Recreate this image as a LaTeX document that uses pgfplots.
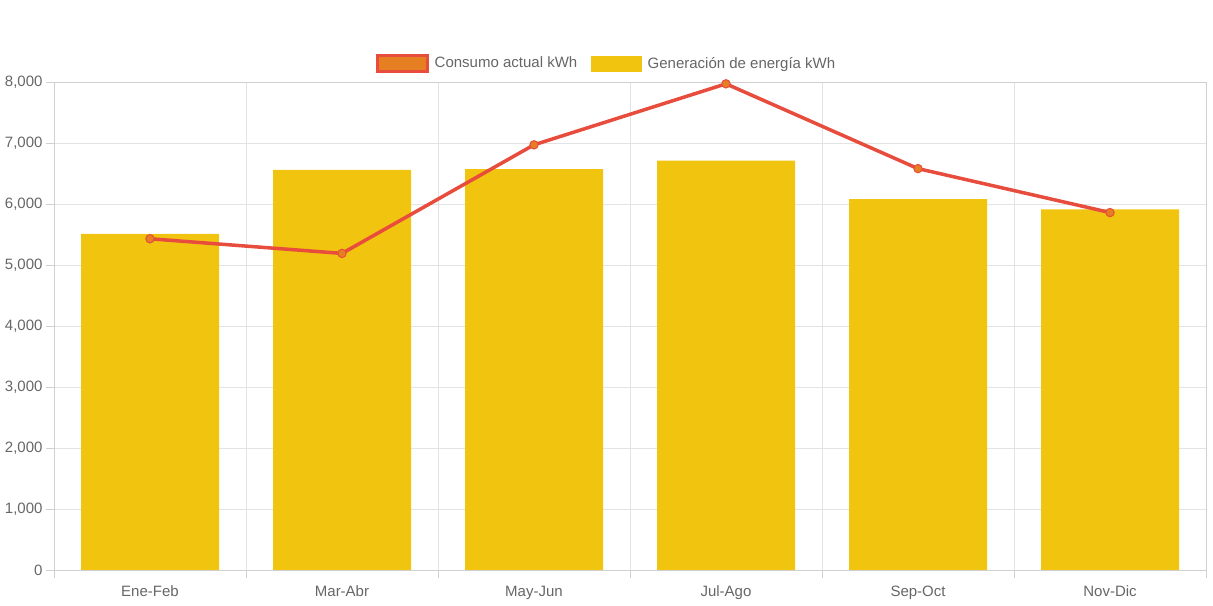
\documentclass[border=0pt]{standalone}
\usepackage{pgfplots}
\pgfplotsset{compat=1.18}
\usepackage{fontspec}
\setmainfont{Liberation Sans}
\definecolor{barY}{HTML}{F1C40F}
\definecolor{lineR}{HTML}{E74C3C}
\definecolor{markO}{HTML}{E67E22}
\definecolor{txt}{HTML}{666666}
\definecolor{gridc}{HTML}{E3E3E3}
\definecolor{axc}{HTML}{D0D0D0}
\pgfplotstableread{
x gen cons
0 5510 5430
1 6560 5190
2 6570 6970
3 6710 7970
4 6080 6580
5 5910 5860
}\datatab
\begin{document}
\begin{tikzpicture}[x=1bp,y=1bp]
\useasboundingbox (0,0) rectangle (1213,606);
\begin{axis}[
  at={(54bp,36bp)}, anchor=south west,
  scale only axis, width=1152bp, height=488bp,
  xmin=-0.5, xmax=5.5, ymin=0, ymax=8000,
  xtick={0,...,5},
  xticklabels={Ene-Feb,Mar-Abr,May-Jun,Jul-Ago,Sep-Oct,Nov-Dic},
  minor xtick={-0.5,0.5,...,5.5},
  ytick={0,1000,...,8000},
  xminorgrids, ymajorgrids,
  grid style={draw=gridc, line width=0.8bp},
  minor grid style={draw=gridc, line width=0.8bp},
  axis line style={draw=axc, line width=0.8bp},
  tick align=outside,
  major x tick style={draw=none},
  minor x tick style={draw=axc, line width=0.8bp},
  major tick length=8bp, minor tick length=8bp,
  y tick style={draw=axc, line width=0.8bp},
  xtick pos=bottom, ytick pos=left,
  /pgf/number format/assume math mode=true,
  /pgf/number format/1000 sep={,},
  tick label style={font=\fontsize{15bp}{18bp}\selectfont, text=txt},
  yticklabel style={xshift=0bp},
  xticklabel style={anchor=base, yshift=-19bp},
  legend style={at={(0.5,1)}, anchor=south, xshift=-23.5bp, yshift=7bp,
    draw=none, fill=none, font=\fontsize{15bp}{18bp}\selectfont, text=txt,
    legend columns=2,
    /tikz/every even column/.append style={column sep=12bp},
    /tikz/every odd column/.append style={column sep=4bp}},
  legend cell align=left,
]
\addplot[ybar, bar width=138bp, fill=barY, draw=none, forget plot] table[x=x, y=gen] {\datatab};
\addplot[color=lineR, line width=3.5bp, mark=*, mark size=4.2bp,
  mark options={fill=markO, draw=lineR, line width=1bp},
  legend image code/.code={\draw[fill=markO, draw=lineR, line width=3bp] (0bp,-8bp) rectangle (50bp,8bp);}]
  table[x=x, y=cons] {\datatab};
\addlegendentry{Consumo actual kWh}
\addlegendimage{legend image code/.code={\fill[barY] (0bp,-7.5bp) rectangle (50bp,7.5bp);}}
\addlegendentry{Generación de energía kWh}
\end{axis}
\end{tikzpicture}
\end{document}
